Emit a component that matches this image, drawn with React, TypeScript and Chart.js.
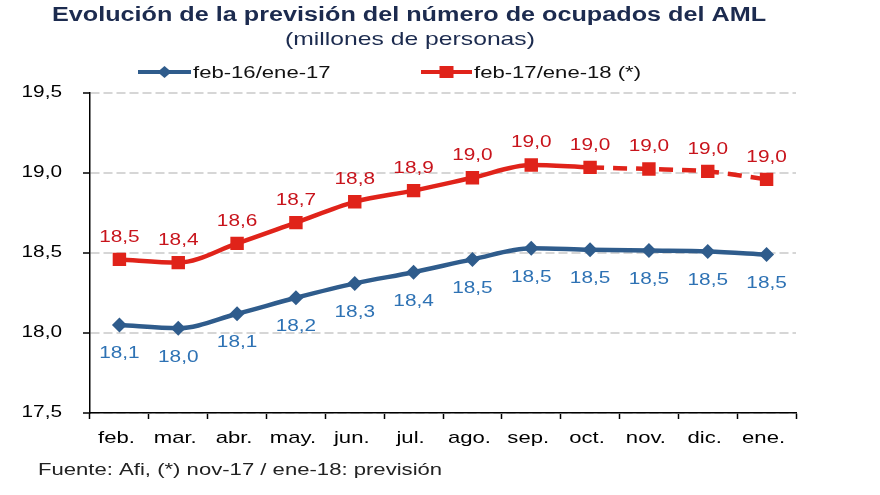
import React, { useEffect, useRef } from "react";
import { Chart, registerables } from "chart.js";

Chart.register(...registerables);

const categories = ["feb.", "mar.", "abr.", "may.", "jun.", "jul.", "ago.", "sep.", "oct.", "nov.", "dic.", "ene."];
const serie1Name = "feb-16/ene-17";
const serie2Name = "feb-17/ene-18 (*)";
const serie1 = [18.05, 18.03, 18.12, 18.22, 18.31, 18.38, 18.46, 18.53, 18.52, 18.515, 18.51, 18.49];
const serie2 = [18.46, 18.44, 18.56, 18.69, 18.82, 18.89, 18.97, 19.05, 19.035, 19.025, 19.01, 18.96];
const serie1Labels = ["18,1", "18,0", "18,1", "18,2", "18,3", "18,4", "18,5", "18,5", "18,5", "18,5", "18,5", "18,5"];
const serie2Labels = ["18,5", "18,4", "18,6", "18,7", "18,8", "18,9", "19,0", "19,0", "19,0", "19,0", "19,0", "19,0"];
const yTicks = [17.5, 18.0, 18.5, 19.0, 19.5];
const titleText = "Evolución de la previsión del número de ocupados del AML";
const subtitleText = "(millones de personas)";
const footerText = "Fuente: Afi, (*) nov-17 / ene-18: previsión";

const BLUE = "#2f5c8c";
const RED = "#e0231a";
const BLUE_LBL = "#2e72b4";
const RED_LBL = "#c8141c";
const FONT = "'Liberation Sans', Arial, sans-serif";
const SX = 1.3;

function txt(ctx: CanvasRenderingContext2D, s: string, x: number, y: number, align: CanvasTextAlign, font: string, color: string, sx: number = SX) {
  ctx.save();
  ctx.translate(x, y);
  ctx.scale(sx, 1);
  ctx.font = font;
  ctx.fillStyle = color;
  ctx.textAlign = align;
  ctx.textBaseline = "middle";
  ctx.fillText(s, 0, 0);
  ctx.restore();
}

export default function App() {
  const ref = useRef<HTMLCanvasElement | null>(null);
  useEffect(() => {
    if (!ref.current) return;
    const extras = {
      id: "extras",
      afterDatasetsDraw(chart: any) {
        const ctx = chart.ctx;
        const m0 = chart.getDatasetMeta(0);
        m0.data.forEach((p: any, i: number) => {
          txt(ctx, serie1Labels[i], p.x, p.y + 29, "center", `16px ${FONT}`, BLUE_LBL);
        });
        const m1 = chart.getDatasetMeta(1);
        m1.data.forEach((p: any, i: number) => {
          txt(ctx, serie2Labels[i], p.x, p.y - 22, "center", `16px ${FONT}`, RED_LBL);
        });
      },
      afterDraw(chart: any) {
        const ctx = chart.ctx;
        // axis tick labels
        const ys = chart.scales.y;
        yTicks.forEach((v) => {
          txt(ctx, v.toFixed(1).replace(".", ","), 62, ys.getPixelForValue(v), "right", `16px ${FONT}`, "#000");
        });
        const xs = chart.scales.x;
        categories.forEach((c, i) => {
          txt(ctx, c, xs.getPixelForValue(i) - 3, 438, "center", `17px ${FONT}`, "#000");
        });
        // title
        txt(ctx, titleText, 409, 15, "center", `bold 20px ${FONT}`, "#1c2b4f", 1.26);
        txt(ctx, subtitleText, 410, 40, "center", `19px ${FONT}`, "#1c2b4f", 1.3);
        // legend
        const drawItem = (x0: number, len: number, color: string, shape: string, text: string) => {
          ctx.save();
          ctx.strokeStyle = color;
          ctx.lineWidth = 4;
          ctx.beginPath();
          ctx.moveTo(x0, 72);
          ctx.lineTo(x0 + len, 72);
          ctx.stroke();
          ctx.fillStyle = color;
          const cx = x0 + len / 2;
          if (shape === "diamond") {
            ctx.beginPath();
            ctx.moveTo(cx, 66);
            ctx.lineTo(cx + 7, 72);
            ctx.lineTo(cx, 78);
            ctx.lineTo(cx - 7, 72);
            ctx.closePath();
            ctx.fill();
          } else {
            ctx.fillRect(cx - 7, 66, 14, 12);
          }
          ctx.restore();
          txt(ctx, text, x0 + len + 2, 73, "left", `17px ${FONT}`, "#111");
        };
        drawItem(138, 53, BLUE, "diamond", serie1Name);
        drawItem(421, 51, RED, "square", serie2Name);
        // footer
        txt(ctx, footerText, 38, 470, "left", `17px ${FONT}`, "#222");
      },
    };

    const chart = new Chart(ref.current, {
      type: "line",
      data: {
        labels: categories,
        datasets: [
          {
            label: serie1Name,
            data: serie1,
            borderColor: BLUE,
            backgroundColor: BLUE,
            borderWidth: 4.5,
            pointStyle: "rectRot",
            pointRadius: 7.5,
            pointBorderWidth: 0,
            cubicInterpolationMode: "monotone",
          },
          {
            label: serie2Name,
            data: serie2,
            borderColor: RED,
            backgroundColor: RED,
            borderWidth: 4.5,
            pointStyle: "rect",
            pointRadius: 9.5,
            pointBorderWidth: 0,
            cubicInterpolationMode: "monotone",
            segment: {
              borderDash: (c: any) => (c.p0DataIndex >= 8 ? [14, 9] : undefined),
            },
          },
        ],
      },
      options: {
        responsive: false,
        animation: false,
        devicePixelRatio: 1,
        layout: { padding: { left: 0, top: 93, right: 84, bottom: 0 } },
        plugins: { legend: { display: false }, title: { display: false }, tooltip: { enabled: false } },
        scales: {
          x: {
            offset: true,
            afterFit: (s: any) => { s.height = 82; },
            grid: { drawOnChartArea: false, offset: true, tickLength: 6, tickColor: "#000", tickWidth: 1.5 },
            border: { display: true, color: "#000", width: 1.5 },
            ticks: { display: false, autoSkip: false },
          },
          y: {
            min: 17.5,
            max: 19.5,
            afterFit: (s: any) => { s.width = 90; },
            afterBuildTicks: (s: any) => { s.ticks = yTicks.map((v) => ({ value: v })); },
            grid: {
              color: "#d6d6d6",
              lineWidth: 2,
              tickLength: 7,
              tickColor: "#000",
              tickWidth: 1.5,
              tickBorderDash: [],
            } as any,
            border: { display: true, color: "#000", width: 1.5, dash: [9, 4] } as any,
            ticks: { display: false },
          },
        },
      },
      plugins: [extras],
    });
    return () => chart.destroy();
  }, []);
  return (
    <div style={{ position: "absolute", left: 0, top: 0, width: 880, height: 495, background: "#fff" }}>
      <canvas ref={ref} width={880} height={495} />
    </div>
  );
}
